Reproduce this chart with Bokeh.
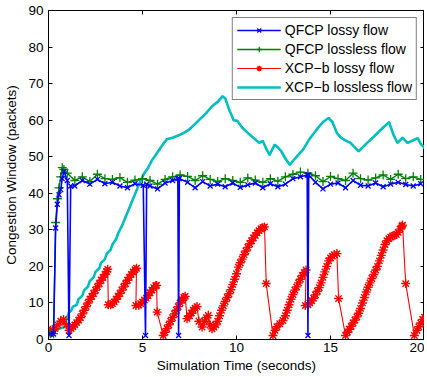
from bokeh.plotting import figure
from bokeh.models import LinearAxis, FixedTicker, Legend, LegendItem
from bokeh.embed import file_html
from bokeh.resources import INLINE

# ---------------- data ----------------
x_ticks = [0, 5, 10, 15, 20]
y_ticks = [0, 10, 20, 30, 40, 50, 60, 70, 80, 90]

qfcp_lossy_t = [0.1, 0.27, 0.38, 0.47, 0.56, 0.65, 0.73, 0.82, 1.0, 1.09, 1.18, 1.4, 1.8, 2.2, 2.6, 3.0,
                3.4, 3.8, 4.2, 4.6, 5.04, 5.16, 5.22, 5.4, 5.8, 6.2, 6.6, 6.88, 6.92, 6.96, 7.4, 7.8,
                8.2, 8.6, 9.0, 9.4, 9.8, 10.2, 10.6, 11.0, 11.4, 11.8, 12.2, 12.6, 13.0, 13.4, 13.76,
                13.8, 13.84, 14.2, 14.6, 15.0, 15.4, 15.8, 16.2, 16.6, 17.0, 17.4, 17.8, 18.2, 18.6,
                19.0, 19.4, 19.8]
qfcp_lossy_w = [1.5, 1.5, 30.5, 37.0, 39.6, 41.0, 44.0, 46.0, 43.5, 1.1, 42.0, 42.0, 43.5, 42.5, 43.8, 42.6,
                43.0, 42.0, 41.5, 42.6, 42.2, 1.1, 42.5, 42.0, 41.2, 42.8, 43.5, 44.0, 1.1, 44.0, 43.0, 41.5,
                43.2, 42.0, 42.5, 41.8, 42.8, 41.6, 42.3, 42.8, 41.5, 42.6, 41.8, 42.5, 44.0, 44.5, 45.0,
                1.1, 45.0, 43.0, 41.2, 42.5, 42.8, 41.5, 43.5, 42.2, 42.0, 42.8, 41.8, 42.5, 43.0,
                42.4, 42.0, 42.6]

qfcp_lossless_t = [0.1, 0.27, 0.38, 0.47, 0.56, 0.65, 0.73, 0.82, 1.0, 1.4, 1.8, 2.2, 2.6, 3.0, 3.4, 3.8,
                   4.2, 4.6, 5.0, 5.4, 5.8, 6.2, 6.6, 7.0, 7.4, 7.8, 8.2, 8.6, 9.0, 9.4, 9.8, 10.2,
                   10.6, 11.0, 11.4, 11.8, 12.2, 12.6, 13.0, 13.4, 13.8, 14.2, 14.6, 15.0, 15.4, 15.8,
                   16.2, 16.6, 17.0, 17.4, 17.8, 18.2, 18.6, 19.0, 19.4, 19.8]
qfcp_lossless_w = [1.6, 1.6, 32.0, 38.5, 41.5, 44.5, 47.0, 46.5, 45.5, 43.5, 44.5, 43.2, 45.2, 44.0, 43.8, 44.3,
                   43.0, 43.6, 44.0, 43.5, 42.5, 43.8, 44.5, 45.0, 44.6, 43.5, 44.8, 43.8, 43.2, 44.0, 43.5, 43.0,
                   44.2, 43.6, 43.0, 44.0, 43.3, 44.5, 45.2, 45.8, 45.5, 44.8, 43.2, 44.6, 44.0, 43.5,
                   45.5, 44.0, 43.6, 44.2, 45.0, 43.8, 45.2, 44.0, 44.5, 43.8]

xcpb_lossy_t = [0.0, 0.1, 0.2, 0.35, 0.5, 0.65, 0.8, 0.95, 1.09,
                1.2, 1.3, 1.4, 1.5, 1.6, 1.7, 1.8, 1.9, 2.0, 2.1, 2.2, 2.3, 2.4, 2.5, 2.6, 2.7, 2.8, 2.9, 3.0, 3.1, 3.15,
                3.18, 3.3, 3.4, 3.5, 3.6, 3.7, 3.8, 3.9, 4.0, 4.1, 4.2, 4.3, 4.4, 4.5, 4.6, 4.68,
                4.65, 4.8, 4.9, 5.0, 5.1, 5.2, 5.3, 5.4, 5.5, 5.6, 5.7, 5.75,
                5.78, 6.1, 6.2, 6.3, 6.4, 6.5, 6.6, 6.7, 6.8, 6.9, 7.0, 7.1, 7.2, 7.27,
                7.37, 7.5, 7.6, 7.7, 7.8, 7.9, 8.0, 8.17, 8.3, 8.4, 8.5, 8.6, 8.7,
                8.8, 8.9, 9.0, 9.1, 9.2, 9.3, 9.4, 9.5, 9.6, 9.7, 9.8, 9.9, 10.0, 10.1, 10.2, 10.3, 10.4,
                10.5, 10.6, 10.7, 10.8, 10.9, 11.0, 11.1, 11.2, 11.3, 11.4, 11.49,
                11.58, 11.94, 12.05, 12.15, 12.3, 12.47, 12.6, 12.7, 12.8, 12.9, 13.0, 13.1, 13.2, 13.3,
                13.4, 13.5, 13.6, 13.7,
                13.66, 13.8, 13.9, 14.0, 14.1, 14.2, 14.3, 14.4, 14.5, 14.6, 14.7, 14.8, 14.9, 15.0,
                15.1, 15.2, 15.34,
                15.43, 15.8, 15.9, 16.0, 16.1, 16.2, 16.3, 16.4, 16.5, 16.6, 16.7, 16.8, 16.9, 17.0,
                17.1, 17.2, 17.3, 17.4, 17.5, 17.6, 17.7, 17.8, 17.9, 18.0, 18.1, 18.2, 18.3, 18.4,
                18.5, 18.6, 18.7, 18.8, 18.83,
                19.0, 19.46, 19.6, 19.7, 19.8, 19.9, 20.0]
xcpb_lossy_w = [1.5, 2.5, 2.5, 3.0, 4.0, 5.0, 5.5, 4.0, 2.5,
                3.0, 3.5, 4.0, 4.6, 5.3, 6.0, 7.0, 8.0, 9.0, 10.0, 11.0, 11.8, 12.6, 13.5, 14.4, 15.3, 16.2, 17.0, 17.8, 18.6, 19.2,
                9.5, 9.5, 9.8, 10.3, 11.0, 11.8, 12.6, 13.5, 14.4, 15.3, 16.2, 17.0, 17.8, 18.5, 19.1, 19.5,
                9.3, 9.4, 9.8, 10.3, 10.8, 11.3, 12.0, 12.8, 13.5, 14.2, 14.7, 14.8,
                7.5, 1.1, 2.0, 3.0, 4.0, 5.0, 6.0, 7.0, 8.0, 9.0, 10.0, 10.8, 11.5, 11.8,
                5.7, 6.5, 7.2, 8.0, 8.6, 9.0, 5.0, 3.4, 5.0, 6.0, 6.6, 4.0, 2.9,
                3.4, 4.0, 5.0, 6.5, 8.0, 9.2, 10.4, 11.5, 12.5, 13.6, 15.0, 16.5, 18.0, 19.8, 21.0, 22.0, 23.2,
                24.2, 25.2, 26.2, 27.0, 27.8, 28.5, 29.2, 29.8, 30.3, 30.6, 30.8,
                15.3, 1.1, 2.5, 3.5, 4.3, 5.2, 6.5, 8.0, 9.5, 11.0, 12.3, 13.5, 14.4, 15.5,
                16.5, 17.5, 18.3, 19.0,
                9.3, 9.5, 10.0, 10.6, 11.3, 12.2, 13.2, 14.2, 15.5, 17.0, 18.5, 20.0, 21.5, 22.3,
                22.8, 23.2, 23.5,
                11.2, 1.1, 2.0, 2.8, 3.6, 4.5, 5.3, 6.2, 7.2, 8.5, 10.0, 11.5, 13.0, 14.3,
                15.5, 16.7, 17.8, 19.0, 20.0, 21.5, 23.0, 24.5, 26.0, 27.0, 27.6, 28.0, 28.3, 28.5,
                28.7, 29.3, 30.2, 31.0, 31.3,
                15.3, 1.1, 2.5, 3.5, 4.5, 5.5, 6.1]

xcpb_lossless_t = [0.0, 0.3, 0.6, 0.9, 0.95, 1.1, 1.2, 1.3, 1.5, 1.6, 1.8, 1.9, 2.1, 2.2, 2.4, 2.5, 2.7,
                   2.8, 3.0, 3.1, 3.3, 3.4, 3.6, 3.7, 3.9, 4.1, 4.3, 4.5, 4.7, 4.9, 5.1, 5.3, 5.5, 5.7,
                   5.9, 6.1, 6.3, 6.6, 6.9, 7.2, 7.5, 7.8, 8.1, 8.4, 8.7, 9.0, 9.25, 9.4, 9.6, 9.85,
                   10.05, 10.3, 10.5, 10.75, 10.95, 11.2, 11.4, 11.6, 11.76, 12.03, 12.2, 12.38, 12.6,
                   12.83, 13.2, 13.55, 13.9, 14.26, 14.6, 14.9, 15.1, 15.34, 15.5, 15.7, 16.06, 16.3,
                   16.5, 16.95, 17.2, 17.5, 17.8, 18.12, 18.35, 18.56, 18.83, 19.1, 19.4, 19.64, 19.8, 20.0]
xcpb_lossless_w = [2.0, 2.2, 3.0, 3.5, 5.5, 7.5, 7.8, 9.0, 9.5, 11.0, 12.0, 13.5, 14.5, 16.0, 17.0, 18.5, 19.5,
                   21.0, 22.0, 23.5, 24.5, 26.0, 27.5, 29.0, 31.0, 33.5, 36.0, 38.5, 41.0, 43.5, 45.5, 47.0, 49.0, 50.5,
                   52.0, 53.5, 54.8, 55.2, 55.8, 56.5, 57.5, 59.0, 60.5, 62.0, 63.8, 65.0, 66.5, 66.0, 63.0, 60.0,
                   59.8, 58.0, 57.0, 55.8, 55.0, 53.8, 54.3, 52.0, 50.5, 53.3, 52.5, 51.5, 49.5,
                   47.8, 50.0, 52.0, 55.0, 57.4, 59.5, 60.6, 59.5, 56.5, 55.5, 54.7, 53.8, 52.5,
                   51.5, 53.8, 55.0, 56.5, 58.0, 59.4, 56.0, 53.8, 55.2, 53.8, 54.5, 55.1, 53.5, 52.4]

labels = ["QFCP lossy flow", "QFCP lossless flow", "XCP\u2212b lossy flow", "XCP\u2212b lossless flow"]

# ---------------- figure ----------------
FONT = "Liberation Sans"
p = figure(width=424, height=375, x_range=(0, 20), y_range=(0, 90),
           output_backend="svg", toolbar_location=None,
           min_border_left=48, min_border_right=0, min_border_top=10, min_border_bottom=0)
p.background_fill_color = "white"
p.border_fill_color = "white"
p.outline_line_color = "black"
p.outline_line_width = 1
p.xgrid.visible = False
p.ygrid.visible = False


def style_axis(ax, show_labels=True):
    ax.major_tick_in = 4
    ax.major_tick_out = 0
    ax.minor_tick_line_color = None
    ax.axis_line_color = "black"
    ax.major_tick_line_color = "black"
    ax.major_label_text_font = FONT
    ax.major_label_text_color = "black"
    ax.major_label_text_font_size = "13.5px"
    if show_labels:
        ax.major_label_standoff = 3
    else:
        ax.major_label_standoff = 0


p.xaxis.ticker = FixedTicker(ticks=x_ticks)
p.yaxis.ticker = FixedTicker(ticks=y_ticks)
style_axis(p.xaxis[0])
style_axis(p.yaxis[0])
p.xaxis.axis_label = "Simulation Time (seconds)"
p.yaxis.axis_label = "Congestion Window (packets)"
for ax in (p.xaxis[0], p.yaxis[0]):
    ax.axis_label_text_font = FONT
    ax.axis_label_text_font_size = "13.5px"
    ax.axis_label_text_font_style = "normal"
    ax.axis_label_text_color = "black"
p.xaxis.axis_label_standoff = 3
p.yaxis.axis_label_standoff = 6
p.yaxis.major_label_standoff = 5

top = LinearAxis(ticker=FixedTicker(ticks=x_ticks))
right = LinearAxis(ticker=FixedTicker(ticks=y_ticks))
style_axis(top, False)
style_axis(right, False)
top.major_label_overrides = {t: "" for t in x_ticks}
right.major_label_overrides = {t: "" for t in y_ticks}
p.add_layout(top, "above")
p.add_layout(right, "right")

# ---------------- series ----------------
l1 = p.line(qfcp_lossy_t, qfcp_lossy_w, line_color="#0000ff", line_width=1.6)
s1 = p.scatter(qfcp_lossy_t, qfcp_lossy_w, marker="x", size=7, line_color="#0000ff", line_width=1.3)
l2 = p.line(qfcp_lossless_t, qfcp_lossless_w, line_color="#008000", line_width=1.4)
s2 = p.scatter(qfcp_lossless_t, qfcp_lossless_w, marker="cross", size=9, line_color="#008000", line_width=1.3)
l3 = p.line(xcpb_lossy_t, xcpb_lossy_w, line_color="#ff0000", line_width=1.1)
s3 = p.scatter(xcpb_lossy_t, xcpb_lossy_w, marker="asterisk", size=9, line_color="#ff0000", line_width=1.4)
l4 = p.line(xcpb_lossless_t, xcpb_lossless_w, line_color="#00bfbf", line_width=2.6)
s4 = p.scatter(xcpb_lossless_t, xcpb_lossless_w, marker="dot", size=8, line_color="#00bfbf", fill_color="#00bfbf")

# drawing order: cyan underneath
p.renderers = [l4, s4, l3, s3, l2, s2, l1, s1]

items = []
for lab, rs in zip(labels, [[l1, s1], [l2, s2], [l3, s3], [l4, s4]]):
    items.append(LegendItem(label=lab, renderers=rs))

legend = Legend(items=items, location="top_right")
legend.border_line_color = "black"
legend.border_line_width = 1.5
legend.background_fill_color = "white"
legend.background_fill_alpha = 1
legend.label_text_font = FONT
legend.label_text_font_size = "14px"
legend.label_text_color = "black"
legend.glyph_width = 44
legend.glyph_height = 14
legend.label_height = 14
legend.spacing = 3
legend.padding = 4
legend.label_standoff = 4
legend.margin = 7
p.add_layout(legend, "center")

open("out.html", "w").write(file_html(p, INLINE))
